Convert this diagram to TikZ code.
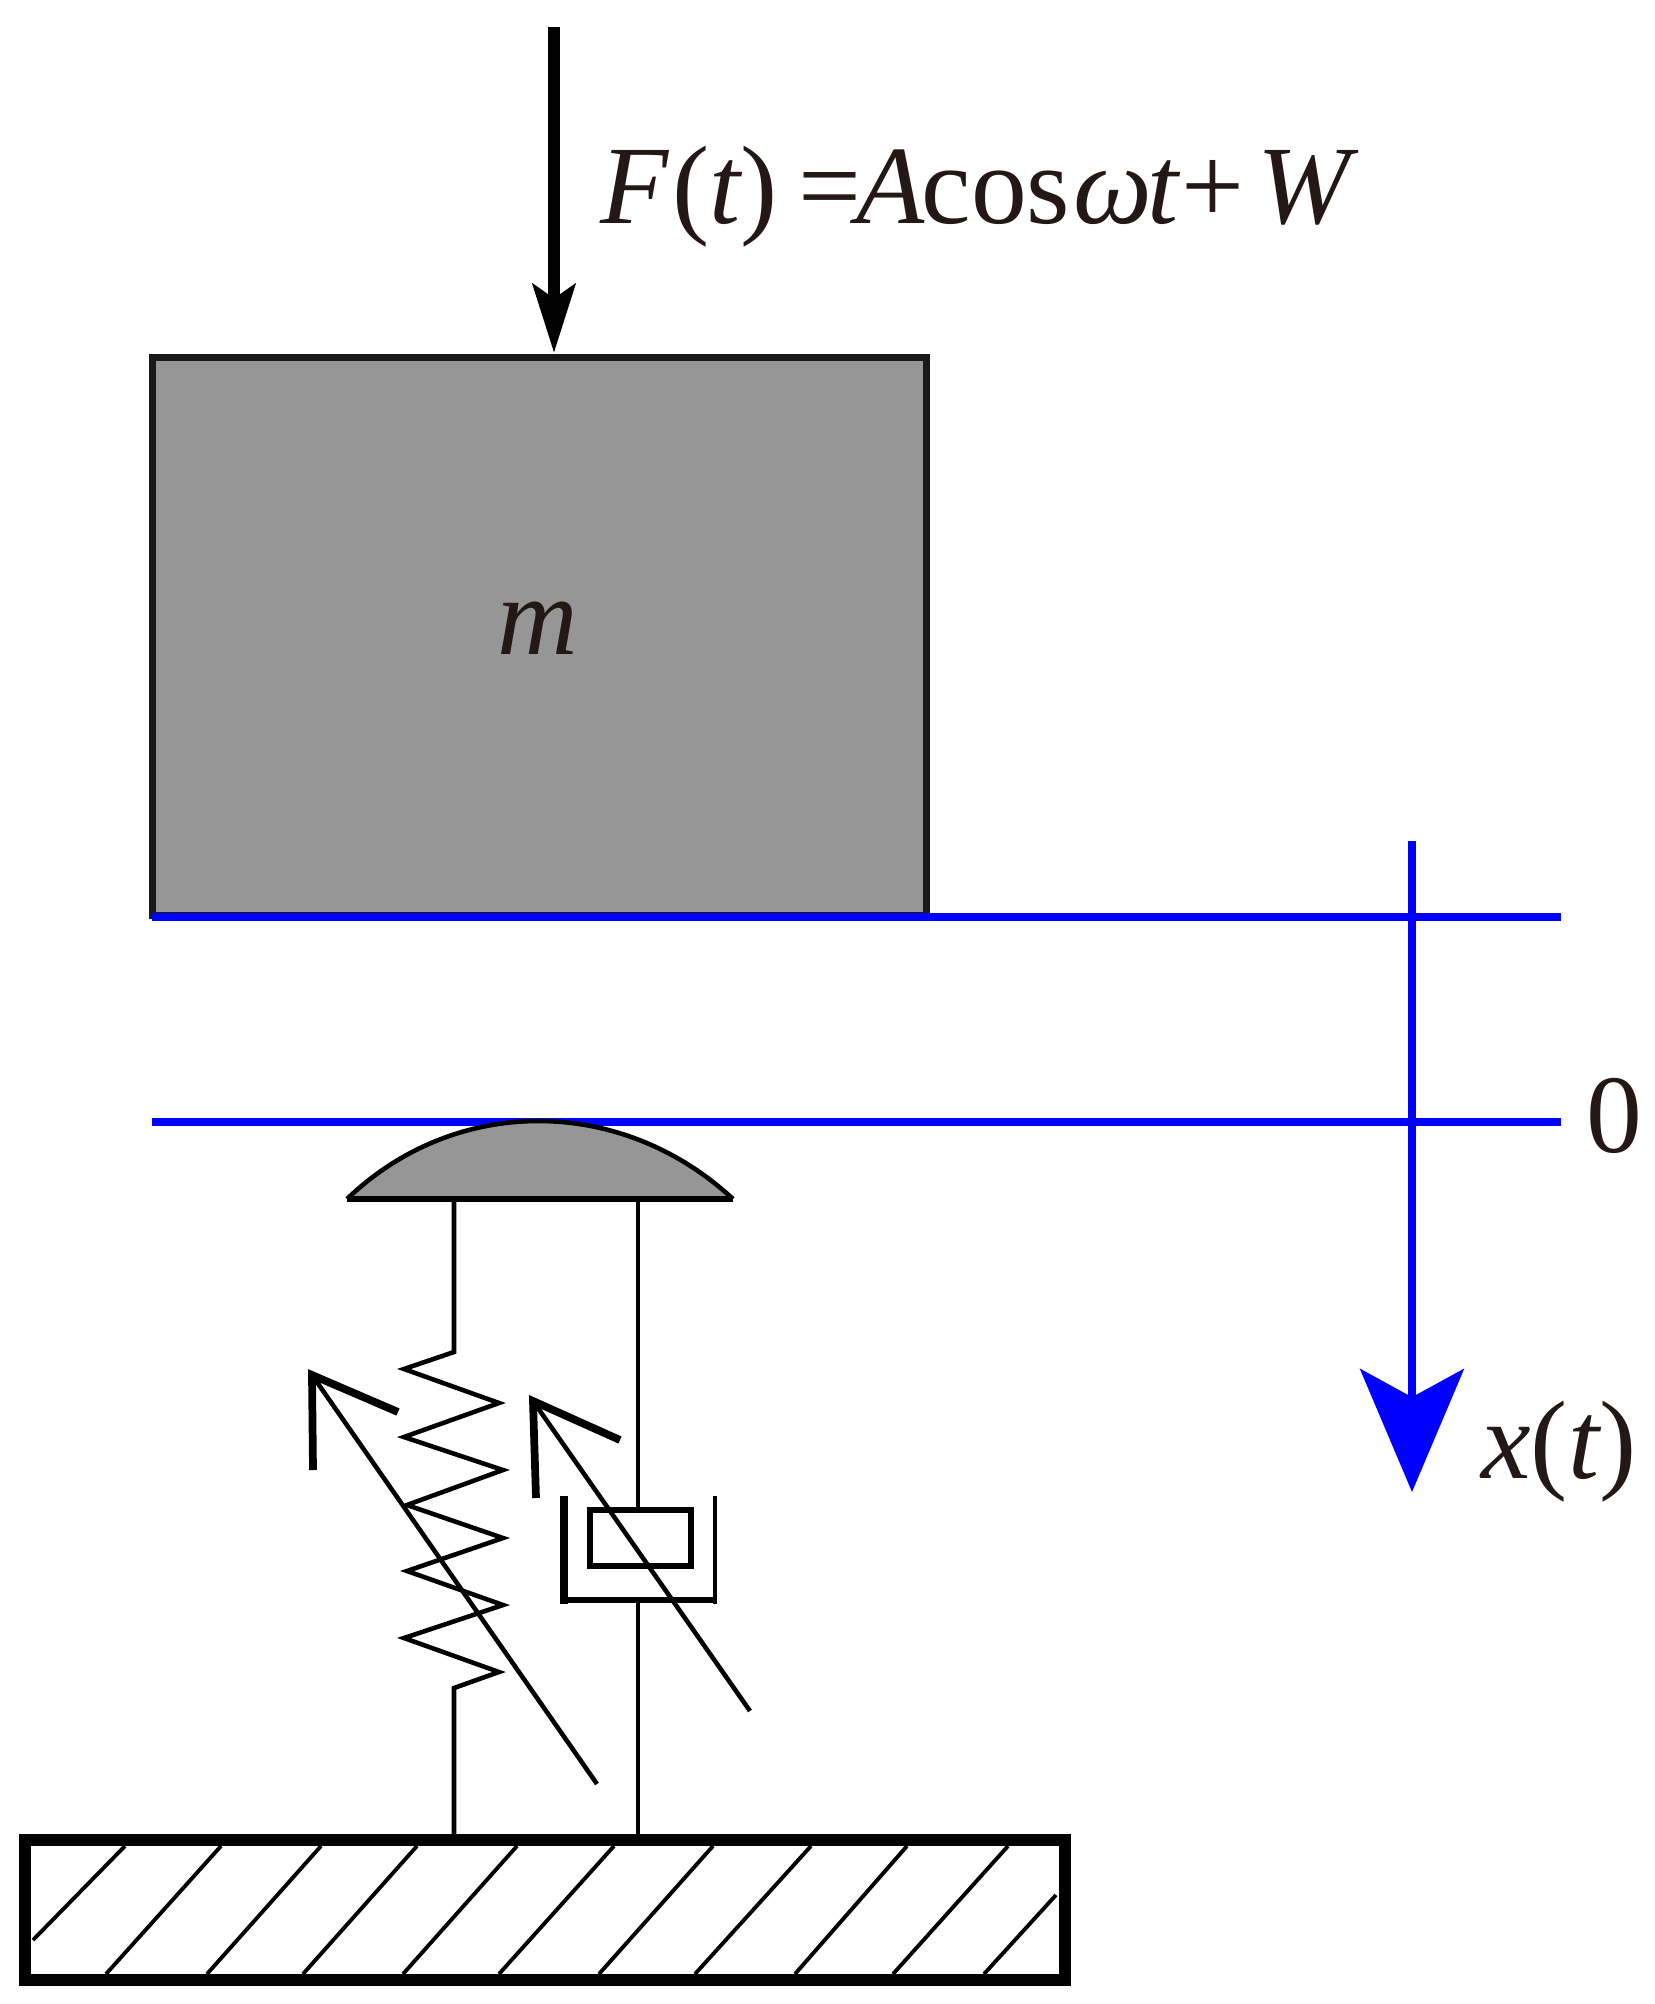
\documentclass[tikz,border=0pt]{standalone}
\usepackage{fontspec}
\setmainfont{Liberation Serif}
\usetikzlibrary{arrows.meta}
\definecolor{inkblack}{HTML}{231815}
\definecolor{massgray}{HTML}{969696}
\tikzset{
    x=0.02cm, y=-0.02cm,
    massbox/.style={draw=black!90, fill=massgray, line width=4pt, inner sep=0pt, outer sep=0pt, minimum width=15.5cm, minimum height=11.18cm},
    groundbox/.style={draw=black, line width=7.2pt, inner sep=0pt, outer sep=0pt, minimum width=20.8cm, minimum height=2.8cm},
    pistonbox/.style={draw=black, line width=3pt, inner sep=0pt, outer sep=0pt, minimum width=2.02cm, minimum height=1.12cm},
    blueline/.style={draw=blue, line width=4.4pt},
    force/.style={draw=black, line width=6.8pt, -{Stealth[length=39pt, width=24pt, inset=8pt]}},
    displacement/.style={draw=blue, line width=4.4pt, -{Stealth[length=70pt, width=59pt, inset=16pt]}},
    thinline/.style={draw=black, line width=2.6pt},
    hatchline/.style={draw=black, line width=2.2pt},
    barb/.style={draw=black, line width=4.4pt, miter limit=20},
    mathlabel/.style={text=inkblack, inner sep=0pt, font=\fontsize{63.5}{70}\selectfont\itshape, anchor=base west}
}
\begin{document}
\begin{tikzpicture}
    \useasboundingbox (0,0) rectangle (1655,2004);
    \node (mass) [massbox] at (539.5,636.5) {};
    \node (massname) [mathlabel, anchor=base] at (538,654) {m};
    \coordinate (forcetop) at (554,27);
    \coordinate (forcetip) at (554,353);
    \draw[force] (forcetop) -- (forcetip);
    \node (forcename) [mathlabel] at (600,224) {F\kern2pt{\upshape(}t{\upshape)}\kern12pt{\upshape=}\kern-3pt A\kern-1.5pt{\upshape cos}\kern2pt ω\kern-3pt t\kern2pt{\upshape+}\kern7pt W};
    \coordinate (upperleft) at (152,917);
    \coordinate (upperright) at (1561,917);
    \coordinate (zeroleft) at (152,1122);
    \coordinate (zeroright) at (1561,1122);
    \coordinate (axistop) at (1412,841);
    \coordinate (axistip) at (1412,1492);
    \draw[blueline] (upperleft) -- (upperright);
    \draw[blueline] (zeroleft) -- (zeroright);
    \draw[displacement] (axistop) -- (axistip);
    \node (zeroname) [mathlabel] at (1586,1152) {\upshape 0};
    \node (axisname) [mathlabel] at (1481,1478) {x{\upshape(}t{\upshape)}};
    \coordinate (domeleft) at (347,1199);
    \coordinate (domeright) at (733,1199);
    \fill[massgray] (domeleft) .. controls (455,1095) and (621,1095) .. (domeright) -- cycle;
    \draw[thinline] (domeleft) .. controls (455,1095) and (621,1095) .. (domeright);
    \draw[draw=black, line width=3.6pt] (domeleft) -- (domeright);
    \node (ground) [groundbox] at (545,1910) {};
    \foreach \xa/\xb in {221/106,321/207,417/303,517/403,614/499,713/599,811/695,907/795,1008/893}
        \draw[hatchline] (\xa,1846) -- (\xb,1974);
    \draw[hatchline] (125,1846) -- (33,1940);
    \draw[hatchline] (1056,1895) -- (984,1974);
    \coordinate (springtop) at (454,1199);
    \coordinate (springbottom) at (454,1834);
    \draw[thinline] (springtop) -- (454,1352) -- (404,1369) -- (499,1403) -- (404,1437) -- (503,1470) -- (407,1505) -- (503,1538) -- (407,1571) -- (503,1605) -- (404,1638) -- (499,1672) -- (454,1688) -- (springbottom);
    \coordinate (dampertop) at (638,1199);
    \coordinate (damperbottom) at (638,1834);
    \node (piston) [pistonbox] at (640.5,1538) {};
    \draw[thinline] (dampertop) -- (piston.north -| dampertop);
    \coordinate (cupleft) at (564,1496);
    \coordinate (cupcorner) at (564,1600);
    \coordinate (cupright) at (715,1496);
    \coordinate (cupbase) at (715,1600);
    \draw[draw=black, line width=4.4pt] (cupleft) -- (564,1604);
    \draw[draw=black, line width=3.6pt] (cupcorner) -- (cupbase);
    \draw[thinline] (cupright) -- (715,1604);
    \draw[thinline] (cupcorner -| dampertop) -- (damperbottom);
    \coordinate (springtail) at (597,1784);
    \coordinate (springhead) at (312,1375);
    \draw[thinline] (springtail) -- (springhead);
    \draw[barb] (398,1412) -- (springhead) -- (313,1470);
    \coordinate (dampertail) at (750,1711);
    \coordinate (damperhead) at (533,1401);
    \draw[thinline] (dampertail) -- (damperhead);
    \draw[barb] (620,1440) -- (damperhead) -- (536,1498);
\end{tikzpicture}
\end{document}
